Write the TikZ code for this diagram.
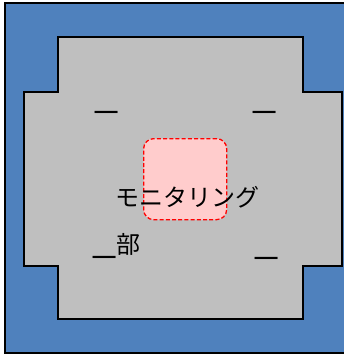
\documentclass[tikz,border=0pt]{standalone}
\usepackage{fontspec}
\setmainfont{Noto Sans CJK JP}
\definecolor{outerblue}{RGB}{79,129,189}
\definecolor{floorgray}{RGB}{191,191,191}
\definecolor{pinkfill}{RGB}{255,204,204}
\tikzset{
  outerbox/.style={fill=outerblue, draw=black, line width=1.5pt},
  floorshape/.style={fill=floorgray, draw=black, line width=1.5pt},
  zonebox/.style={fill=pinkfill, draw=red, dash pattern=on 4pt off 2.2pt, line width=1.3pt, rounded corners=10pt},
  lbl/.style={inner sep=0pt, font=\fontsize{24}{24}\selectfont},
  uscore/.style={inner sep=0pt, font=\fontsize{24}{24}\selectfont},
}
\newcommand{\uline}{\scalebox{1.8}[1.5]{\_}}
\begin{document}
\begin{tikzpicture}[x=1pt,y=-1pt]
\useasboundingbox (0,0) rectangle (344,356);
\fill[white] (0,0) rectangle (344,356);
\path[outerbox] (5,3) rectangle (360,353);
\path[floorshape] (58,37) -- (303,37) -- (303,92) -- (342,92) -- (342,266) -- (303,266)
  -- (303,319) -- (58,319) -- (58,266) -- (24,266) -- (24,92) -- (58,92) -- cycle;
\node[zonebox, minimum width=83pt, minimum height=81pt, anchor=north west] (zone) at (143,138) {};
\node[lbl, anchor=base west] (mon) at (115,206) {モニタリング};
\node[lbl, anchor=base east] (bu) at (141,253) {\uline 部};
\node[uscore, anchor=south west] (u1) at (94,113.5) {\uline};
\node[uscore, anchor=south west] (u2) at (252,113.5) {\uline};
\node[uscore, anchor=south west] (u4) at (254,259.5) {\uline};
\end{tikzpicture}
\end{document}
